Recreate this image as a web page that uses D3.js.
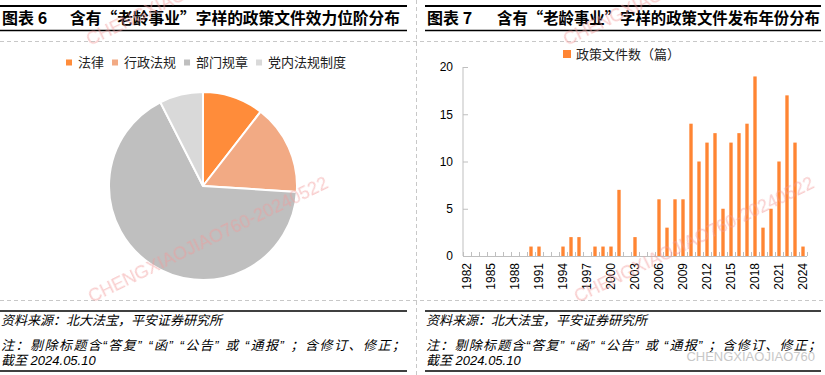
<!DOCTYPE html>
<meta charset="utf-8">
<style>
body { margin: 0; background: #fff; }
svg text { font-family: "Liberation Sans", "Noto Sans CJK SC", sans-serif; }
.cjk { font-family: "Noto Sans CJK SC", sans-serif; }
.axis text { font-size: 12px; fill: #000; }
</style>
<body>
<svg width="825" height="375"></svg>
<script src="https://d3js.org/d3.v7.min.js"></script>
<script>
// left: pie of document levels
var pieCats = ["法律", "行政法规", "部门规章", "党内法规制度"];
var pieVals = [21, 31, 133, 15];
var pieColors = ["#ff8c3a", "#f2aa84", "#bfbfbf", "#d9d9d9"];

// right: documents per year
var years = d3.range(1982, 2025).map(String);
var counts = [0, 0, 0, 0, 0, 0, 0, 0, 1, 1, 0, 0, 1, 2, 2, 0, 1, 1, 1, 7,
              0, 2, 0, 0, 6, 3, 6, 6, 14, 10, 12, 13, 5, 12, 13, 14, 19, 3, 5, 10,
              17, 12, 1];
var yTicks = [0, 5, 10, 15, 20];
var barName = "政策文件数（篇）";

var svg = d3.select("svg");

// dashed frame
svg.append("g").attr("stroke", "#c8c8c8").attr("stroke-dasharray", "4,3")
  .selectAll("line")
  .data([[0, 41.5, 825, 41.5], [0, 300.5, 825, 300.5], [416.5, 0, 416.5, 375]])
  .enter().append("line")
  .attr("x1", function(d) { return d[0]; }).attr("y1", function(d) { return d[1]; })
  .attr("x2", function(d) { return d[2]; }).attr("y2", function(d) { return d[3]; });

// titles + rules
function header(x0, x1, num, title, tx, tw, nw) {
  svg.append("line").attr("x1", x0).attr("x2", x1).attr("y1", 6).attr("y2", 6)
    .attr("stroke", "#000").attr("stroke-width", 2);
  svg.append("line").attr("x1", x0).attr("x2", x1).attr("y1", 30.5).attr("y2", 30.5)
    .attr("stroke", "#000").attr("stroke-width", 1.5);
  svg.append("text").attr("class", "cjk").attr("x", x0 + 2).attr("y", 24)
    .style("font-size", "16px").style("font-weight", "bold").text(num);
  svg.append("text").attr("class", "cjk").attr("x", tx).attr("y", 24)
    .attr("textLength", tw).attr("lengthAdjust", "spacingAndGlyphs")
    .style("font-size", "16px").style("font-weight", "bold").text(title);

  svg.append("line").attr("x1", x0).attr("x2", x1).attr("y1", 311).attr("y2", 311)
    .attr("stroke", "#000").attr("stroke-width", 1.5);
  svg.append("line").attr("x1", x0).attr("x2", x1).attr("y1", 371).attr("y2", 371)
    .attr("stroke", "#000").attr("stroke-width", 1.5);
  var f = svg.append("g").attr("class", "cjk").style("font-size", "13px")
    .style("font-style", "italic");
  f.append("text").attr("x", x0 + 1).attr("y", 325).text("资料来源：北大法宝，平安证券研究所");
  f.append("text").attr("x", x0 + 1).attr("y", 350).attr("textLength", nw)
    .text("注：剔除标题含“答复” “函” “公告” 或 “通报” ；含修订、修正；");
  f.append("text").attr("x", x0 + 1).attr("y", 365).text("截至 2024.05.10");
}
header(0, 407, "图表 6", "含有“老龄事业”字样的政策文件效力位阶分布", 70, 330, 404);
header(425, 821, "图表 7", "含有“老龄事业”字样的政策文件发布年份分布", 497, 323, 395);

// ---- pie ----
var pie = d3.pie().sort(null).value(function(d) { return d; });
var arc = d3.arc().innerRadius(0).outerRadius(94);
svg.append("g").attr("transform", "translate(203,186)")
  .selectAll("path").data(pie(pieVals)).enter().append("path")
  .attr("d", arc)
  .attr("fill", function(d, i) { return pieColors[i]; })
  .attr("stroke", "#fff").attr("stroke-width", 2);

var lg = svg.append("g").attr("class", "cjk").style("font-size", "13px");
var lx = 66;
pieCats.forEach(function(c, i) {
  lg.append("rect").attr("x", lx).attr("y", 59.5).attr("width", 6).attr("height", 6)
    .attr("fill", pieColors[i]);
  var t = lg.append("text").attr("x", lx + 12).attr("y", 67).attr("fill", "#222").text(c);
  lx += 12 + t.node().getComputedTextLength() + 8;
});

// ---- bars ----
var x = d3.scaleBand().domain(years).range([463, 807]).paddingInner(0.58).paddingOuter(0.29);
var y = d3.scaleLinear().domain([0, 20]).range([256, 67]);

svg.append("g").attr("class", "axis")
  .attr("transform", "translate(463,0)")
  .call(d3.axisLeft(y).tickValues(yTicks).tickSize(-5).tickPadding(10))
  .call(function(g) {
    g.selectAll("line, path").attr("stroke", "#bfbfbf");
    g.select(".domain").attr("d", "M0,67V256");
  });

svg.append("g").selectAll("rect").data(years).enter().append("rect")
  .attr("x", function(d) { return x(d); })
  .attr("y", function(d, i) { return y(counts[i]); })
  .attr("width", x.bandwidth())
  .attr("height", function(d, i) { return y(0) - y(counts[i]); })
  .attr("fill", "#ff8533");

var step = x.step();
var xa = svg.append("g").attr("stroke", "#bfbfbf");
xa.append("line").attr("x1", x.range()[0]).attr("x2", x.range()[1])
  .attr("y1", y(0) + 0.5).attr("y2", y(0) + 0.5);
xa.selectAll(".tk").data(years.concat(["end"])).enter().append("line")
  .attr("class", "tk")
  .attr("x1", function(d, i) { return x.range()[0] + i * step + 0.5; })
  .attr("x2", function(d, i) { return x.range()[0] + i * step + 0.5; })
  .attr("y1", y(0) - 4).attr("y2", y(0));

svg.append("g").attr("class", "axis")
  .selectAll("text").data(years.filter(function(d, i) { return i % 3 === 0; }))
  .enter().append("text")
  .attr("transform", function(d) {
    return "translate(" + (x(d) + x.bandwidth() / 2) + ",263) rotate(-90)";
  })
  .attr("dy", "0.35em")
  .attr("text-anchor", "end")
  .text(function(d) { return d; });

svg.append("rect").attr("x", 563).attr("y", 50).attr("width", 8).attr("height", 8)
  .attr("fill", "#ff8533");
svg.append("text").attr("class", "cjk").attr("x", 576).attr("y", 58.5)
  .style("font-size", "13px").attr("fill", "#222").text(barName);

// watermarks
var wm = svg.append("g").attr("fill", "#f29a9a").attr("opacity", 0.5)
  .style("font-family", "Liberation Mono, monospace").style("font-size", "18px");
[[92, 303], [578, 303]].forEach(function(p) {
  wm.append("text").attr("transform", "translate(" + p[0] + "," + p[1] + ") rotate(-26)")
    .text("CHENGXIAOJIAO760-20240522");
});
[[90, 46], [567, 46]].forEach(function(p) {
  wm.append("text").attr("transform", "translate(" + p[0] + "," + p[1] + ") rotate(-26)")
    .text("CHENGXIAOJIAO760");
});
svg.append("text").attr("x", 815).attr("y", 361).attr("text-anchor", "end")
  .attr("fill", "#c8c8c8").style("font-size", "13px").text("CHENGXIAOJIAO760");
</script>
</body>
